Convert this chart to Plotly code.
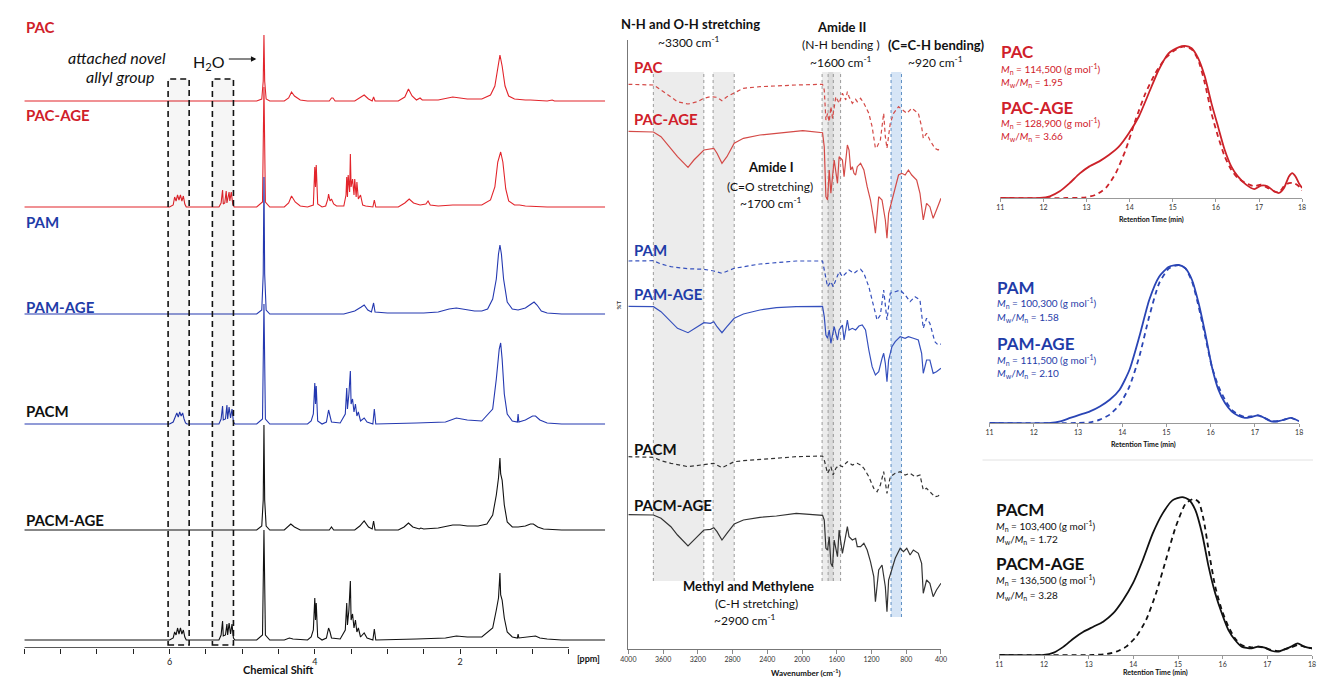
import plotly.graph_objects as go

W, H = 1319, 680
def fx(px): return px / W
def fy(py): return 1 - py / H

# ---------------- NMR data (ppm, intensity a.u.) ----------------
nmr_pac = [(8.0,0),(4.80,0),(4.73,2),(4.71,20),(4.70,66),(4.69,20),(4.67,2),(4.62,0),(4.42,0),(4.36,3),(4.32,9),(4.28,5),(4.2,1),(4.1,0),(3.80,0),(3.77,3),(3.75,3),(3.72,0),(3.45,0),(3.38,3),(3.32,6),(3.26,2),(3.21,0),(3.19,4),(3.17,0),(2.85,0),(2.76,4),(2.71,12),(2.66,5),(2.6,1),(2.55,3),(2.52,1),(2.3,1),(2.1,4),(1.9,2),(1.7,2),(1.58,6),(1.52,15),(1.48,35),(1.45,46),(1.42,35),(1.38,15),(1.33,5),(1.25,2),(1.1,1),(1.03,1),(0.8,0),(0.73,1),(0.7,0),(0.0,0)]
nmr_pac_age = [(8,0),(6.0,0),(5.95,2),(5.93,10),(5.91,6),(5.89,12),(5.87,7),(5.85,12),(5.83,6),(5.81,11),(5.79,3),(5.77,0),(5.32,0),(5.29,4),(5.27,17),(5.26,3),(5.24,4),(5.22,16),(5.21,4),(5.18,15),(5.17,6),(5.15,15),(5.13,3),(5.11,0),(4.80,0),(4.72,5),(4.70,120),(4.68,5),(4.62,0),(4.42,0),(4.36,4),(4.32,11),(4.27,5),(4.2,1),(4.1,0),(4.02,2),(4.00,40),(3.99,20),(3.98,42),(3.96,3),(3.9,0),(3.85,1),(3.82,8),(3.81,13),(3.79,6),(3.77,8),(3.74,3),(3.70,1),(3.60,1),(3.57,12),(3.56,30),(3.55,10),(3.54,32),(3.52,15),(3.51,53),(3.50,20),(3.48,28),(3.46,12),(3.45,28),(3.43,10),(3.42,25),(3.40,8),(3.37,12),(3.34,2),(3.3,1),(3.2,0),(3.18,7),(3.16,0),(2.85,0),(2.76,4),(2.70,8),(2.64,4),(2.55,2),(2.47,3),(2.44,6),(2.41,2),(2.3,1),(2.1,2),(1.9,2),(1.7,2),(1.58,7),(1.52,20),(1.48,45),(1.44,55),(1.41,45),(1.37,18),(1.33,6),(1.25,2),(1.18,2),(1.1,1),(0.8,0),(0,0)]
nmr_pam = [(8,0),(4.8,0),(4.73,4),(4.71,40),(4.70,137),(4.69,40),(4.67,4),(4.62,0),(3.6,0),(3.45,3),(3.36,7),(3.32,9),(3.27,4),(3.22,2),(3.19,11),(3.17,2),(3.0,1),(2.5,1),(2.3,2),(2.15,5),(2.05,6),(1.95,5),(1.8,3),(1.7,3),(1.62,5),(1.55,15),(1.50,35),(1.47,60),(1.45,69),(1.43,60),(1.40,35),(1.35,12),(1.28,5),(1.2,4),(1.1,6),(1.02,10),(0.98,12),(0.94,9),(0.88,3),(0.8,1),(0.6,0),(0,0)]
nmr_pam_age = [(8,0),(6.0,0),(5.95,2),(5.92,8),(5.90,11),(5.88,7),(5.86,12),(5.84,8),(5.82,11),(5.80,5),(5.78,1),(5.76,0),(5.32,0),(5.29,5),(5.27,18),(5.26,4),(5.23,5),(5.21,19),(5.20,5),(5.18,17),(5.16,6),(5.14,15),(5.12,2),(5.10,0),(4.80,0),(4.72,5),(4.70,120),(4.68,5),(4.62,0),(4.1,0),(4.05,3),(4.02,10),(4.00,41),(3.99,20),(3.98,38),(3.96,3),(3.9,0),(3.84,2),(3.81,14),(3.79,8),(3.77,2),(3.65,1),(3.58,10),(3.56,36),(3.55,15),(3.53,30),(3.51,53),(3.50,20),(3.48,25),(3.46,12),(3.44,20),(3.42,8),(3.40,12),(3.37,3),(3.32,6),(3.28,2),(3.2,0),(3.18,15),(3.16,0),(2.6,1),(2.2,2),(2.05,6),(1.9,4),(1.7,3),(1.55,15),(1.50,45),(1.46,75),(1.44,81),(1.42,65),(1.39,30),(1.35,10),(1.28,3),(1.21,2),(1.20,10),(1.19,2),(1.1,4),(1.0,8),(0.96,8),(0.9,4),(0.8,1),(0.6,0),(0,0)]
nmr_pacm = [(8,0),(4.8,0),(4.73,4),(4.71,30),(4.70,105),(4.69,30),(4.67,4),(4.62,0),(4.42,0),(4.37,3),(4.33,6),(4.28,3),(4.2,0),(3.80,0),(3.77,3),(3.74,0),(3.45,0),(3.38,4),(3.32,9),(3.26,3),(3.21,1),(3.19,9),(3.17,0),(2.85,0),(2.77,3),(2.71,7),(2.65,3),(2.56,1),(2.54,2),(2.5,1),(2.3,2),(2.1,5),(2.0,5),(1.9,4),(1.75,4),(1.63,6),(1.55,15),(1.50,35),(1.47,52),(1.45,72),(1.44,56),(1.42,50),(1.39,25),(1.35,8),(1.28,3),(1.2,3),(1.1,4),(1.03,6),(0.99,6),(0.93,3),(0.85,1),(0.6,0),(0,0)]
nmr_pacm_age = [(8,0),(6.0,0),(5.95,2),(5.93,8),(5.91,5),(5.89,12),(5.87,6),(5.85,12),(5.83,6),(5.81,10),(5.79,3),(5.77,0),(5.32,0),(5.29,5),(5.27,19),(5.26,4),(5.23,5),(5.21,16),(5.20,5),(5.18,17),(5.16,6),(5.14,16),(5.12,2),(5.10,0),(4.80,0),(4.72,5),(4.70,110),(4.68,5),(4.62,0),(4.42,0),(4.35,2),(4.3,1),(4.1,0),(4.05,3),(4.02,10),(4.00,42),(3.99,20),(3.98,37),(3.96,3),(3.9,0),(3.84,2),(3.81,12),(3.79,8),(3.77,2),(3.65,1),(3.58,10),(3.56,37),(3.55,15),(3.53,30),(3.51,59),(3.50,20),(3.48,26),(3.46,12),(3.44,20),(3.42,8),(3.40,12),(3.37,3),(3.32,7),(3.28,2),(3.2,0),(3.18,11),(3.16,0),(2.6,1),(2.2,2),(2.05,4),(1.9,3),(1.7,3),(1.55,12),(1.50,30),(1.47,42),(1.45,67),(1.44,45),(1.42,40),(1.39,22),(1.35,8),(1.28,3),(1.21,2),(1.20,6),(1.19,2),(1.1,3),(1.0,4),(0.96,4),(0.9,2),(0.8,1),(0.6,0),(0,0)]

nmr_names = ["PAC", "PAC-AGE", "PAM", "PAM-AGE", "PACM", "PACM-AGE"]

# ---------------- FTIR data (wavenumber, relative %T) ----------------
ftir_pac_wn = [4000,3711,3624,3510,3434,3313,3206,3130,3054,2979,2922,2865,2781,2675,2485,2295,2067,1764,1744,1725,1706,1687,1668,1649,1611,1573,1535,1497,1478,1459,1421,1383,1364,1326,1288,1231,1193,1155,1136,1098,1060,1041,1022,984,946,889,851,794,737,661,623,604,566,528,471,433,400]
ftir_pac_t = [75.7,75,70,63.3,58.3,56,58.3,61.7,63.3,62.7,59.3,63.3,66.7,71.7,73.3,74.3,75,75.7,70,40,46.7,38.3,53.3,41.7,63.3,56.7,66.7,60,68.3,63.3,56.7,60.7,58.3,61.7,56.7,46.7,33.3,11.7,13.3,20,46.7,23.3,11.7,36.7,46.7,53.3,50.7,46.7,51.7,46.7,33.3,21.7,26.7,20,11.7,10,12.7]
ftir_pacage_wn = [4000,3711,3624,3510,3434,3313,3245,3130,3054,3016,2979,2922,2865,2781,2675,2485,2295,2067,1991,1764,1744,1725,1706,1687,1668,1630,1592,1573,1535,1516,1478,1459,1440,1421,1402,1383,1364,1326,1288,1250,1212,1174,1155,1117,1079,1041,1022,1003,965,927,889,851,813,775,737,680,642,604,566,528,490,452,400]
ftir_pacage_t = [28.7,28,23.3,11.7,3.3,-7.3,0,10,10.7,11.7,6.7,-3.3,3.3,16.7,21.7,25,26.7,29,29.3,27.3,13.3,-36.7,-40,-10,-33.3,0,-23.3,3.3,0,-16.7,15,10,-10,-6.7,-13.3,-15,-6.7,-3.3,-10,-26.7,-40,-60,-73.3,-36.7,-40,-60,-78.3,-53.3,-40,-26.7,-15,-13.3,-15,-10,-15,-20,-33.3,-60,-43.3,-46.7,-58.3,-50,-38.3]
ftir_pam_wn = [4000,3711,3624,3510,3313,3130,3016,2922,2781,2675,2485,2295,2067,1764,1744,1706,1668,1642,1611,1573,1535,1497,1459,1402,1364,1326,1288,1231,1174,1136,1098,1060,1022,984,927,870,813,756,699,642,604,566,528,471,433,400]
ftir_pam_t = [79,79.3,76,73.3,71.3,70.7,69,66.7,71.7,73.3,76,77.3,79,79,70,53.3,58.3,53.3,60,68.3,63.3,66.7,70,66.7,69.3,70.7,66.7,53.3,33.3,20,25,50,20,46.7,48.3,50,45,38.3,43.3,40,11.7,21.7,16.7,-1.7,-5,-4]
ftir_pamage_wn = [4000,3711,3624,3510,3434,3313,3206,3130,3054,3016,2979,2922,2865,2781,2675,2485,2295,2067,1764,1744,1725,1706,1687,1668,1630,1592,1573,1535,1516,1478,1459,1421,1383,1345,1307,1269,1231,1193,1155,1117,1079,1060,1041,1022,1003,965,927,870,813,775,718,661,623,604,566,528,490,452,400]
ftir_pamage_t = [33.7,33.3,28.3,18.3,11.7,7.3,13.3,17.3,16.7,18.3,13.3,7.3,13.3,21.7,26,30,32.3,33.3,33.7,23.3,5,1.7,10,-3.3,13.3,0,10,15,0,20,10,11.7,10,14,15,10,-10,-26.7,-35,-31.7,-18.3,-13.3,-23.3,-41.7,-20,-6.7,-1.7,3.3,1.7,3.3,1.7,0,-13.3,-33.3,-20,-20,-33.3,-31.7,-28.3]
ftir_pacm_wn = [4000,3711,3624,3510,3313,3130,3016,2922,2781,2675,2485,2295,2067,1764,1744,1706,1668,1642,1611,1573,1535,1478,1421,1364,1326,1288,1231,1174,1136,1098,1060,1022,984,927,870,813,756,699,642,604,566,528,471,433,400]
ftir_pacm_t = [73.3,72.7,69.3,66.7,63.3,65,66.7,62.3,68.3,69.3,70.7,72,73.3,74,70,56.7,63.3,55,61.7,65,63.3,68.3,65,66.7,65,61.7,53.3,41.7,38.3,45,58.3,36.7,53.3,56.7,58.3,55,56.7,53.3,55,40,41.7,38.3,33.3,34,36.7]
ftir_pacmage_wn = [4000,3711,3624,3510,3434,3313,3206,3130,3054,3016,2979,2922,2865,2781,2675,2485,2295,2067,1764,1744,1725,1706,1687,1668,1649,1630,1592,1573,1535,1516,1478,1459,1421,1383,1364,1326,1288,1250,1212,1174,1155,1117,1079,1041,1022,1003,965,927,870,832,794,756,718,661,623,604,566,528,490,452,400]
ftir_pacmage_t = [15.3,15,11.7,3.3,-5,-16,-6.7,0,0.7,2.3,-1.7,-10,-3.3,6,10,12.7,14,16.7,14.7,10,-18.3,-20,-6.7,-33.3,-36.7,-10,-26.7,0,-23.3,-13.3,3.3,-6.7,-10,-8.3,-16.7,-16.7,-13.3,-20,-31.7,-46.7,-71.7,-40,-35,-56.7,-81.7,-50,-40,-28.3,-18.3,-21.7,-18.3,-25,-20,-23.3,-33.3,-63.3,-50,-53.3,-66.7,-60,-53.3]
ftir_ticks = [4000,3600,3200,2800,2400,2000,1600,1200,800,400]

# ---------------- GPC data (retention time min, normalized signal) ----------------
gpc_pac_t = [11,11.918,12.148,12.377,12.607,12.836,13.066,13.295,13.525,13.754,13.984,14.213,14.443,14.672,14.902,15.131,15.284,15.437,15.590,15.743,15.896,16.049,16.203,16.356,16.509,16.700,16.891,17.044,17.197,17.350,17.465,17.580,17.694,17.771,17.847,17.924,18.0]
gpc_pac_h = [0,0,0.011,0.044,0.098,0.160,0.208,0.241,0.284,0.339,0.427,0.536,0.689,0.842,0.952,0.991,1.0,0.985,0.919,0.799,0.624,0.470,0.317,0.208,0.142,0.088,0.059,0.081,0.077,0.044,0.033,0.066,0.142,0.164,0.142,0.098,0.066]
gpc_pacage_t = [11,12.530,12.989,13.219,13.448,13.678,13.907,14.137,14.366,14.596,14.826,15.055,15.246,15.437,15.590,15.743,15.896,16.049,16.203,16.356,16.509,16.700,16.891,17.044,17.197,17.350,17.465,17.580,17.694,17.809,17.924,18.0]
gpc_pacage_h = [0,0,0.004,0.022,0.066,0.164,0.317,0.514,0.689,0.821,0.919,0.974,0.996,0.978,0.908,0.755,0.558,0.405,0.274,0.186,0.131,0.098,0.077,0.088,0.066,0.044,0.037,0.077,0.098,0.098,0.077,0.050]
gpc_pam_t = [11,12.378,12.601,12.825,13.048,13.271,13.495,13.718,13.941,14.165,14.388,14.611,14.835,15.058,15.281,15.430,15.579,15.728,15.877,16.026,16.175,16.324,16.473,16.622,16.771,16.920,17.069,17.218,17.367,17.516,17.665,17.814,18.0]
gpc_pam_h = [0,0,0.011,0.032,0.053,0.074,0.105,0.147,0.211,0.337,0.547,0.779,0.926,0.989,1.0,0.979,0.905,0.758,0.568,0.358,0.211,0.126,0.074,0.046,0.032,0.038,0.048,0.032,0.011,0.011,0.021,0.032,0.011]
gpc_pamage_t = [11,12.973,13.271,13.495,13.718,13.941,14.165,14.388,14.611,14.835,15.058,15.281,15.430,15.579,15.728,15.877,16.026,16.175,16.324,16.473,16.622,16.771,16.920,17.069,17.218,17.367,17.516,17.665,17.814,18.0]
gpc_pamage_h = [0,0,0.004,0.021,0.053,0.116,0.232,0.421,0.674,0.884,0.979,1.0,0.979,0.895,0.737,0.547,0.358,0.232,0.147,0.084,0.053,0.038,0.042,0.048,0.032,0.011,0.011,0.021,0.032,0.011]
gpc_pacm_t = [11,11.996,12.218,12.439,12.661,12.882,13.103,13.325,13.546,13.768,13.989,14.210,14.432,14.653,14.875,15.096,15.244,15.391,15.539,15.686,15.834,15.982,16.129,16.277,16.424,16.646,16.793,16.941,17.089,17.236,17.384,17.531,17.679,17.827,18.0]
gpc_pacm_h = [0,0,0.015,0.053,0.105,0.147,0.179,0.211,0.263,0.347,0.453,0.600,0.768,0.895,0.979,1.0,0.983,0.916,0.768,0.558,0.389,0.263,0.158,0.095,0.053,0.042,0.053,0.046,0.027,0.021,0.036,0.053,0.074,0.053,0.042]
gpc_pacmage_t = [11,13.103,13.399,13.620,13.841,14.063,14.284,14.506,14.727,14.948,15.170,15.354,15.465,15.576,15.686,15.834,15.982,16.129,16.277,16.424,16.646,16.793,16.941,17.089,17.236,17.384,17.531,17.679,17.827,18.0]
gpc_pacmage_h = [0,0,0.006,0.021,0.053,0.116,0.221,0.389,0.600,0.811,0.958,0.989,0.968,0.853,0.663,0.432,0.284,0.179,0.105,0.063,0.048,0.053,0.046,0.032,0.025,0.036,0.048,0.063,0.053,0.042]
gpc_ticks = [11,12,13,14,15,16,17,18]

gpc_stats = [
    ("PAC", "114,500", "1.95", "PAC-AGE", "128,900", "3.66"),
    ("PAM", "100,300", "1.58", "PAM-AGE", "111,500", "2.10"),
    ("PACM", "103,400", "1.72", "PACM-AGE", "136,500", "3.28"),
]

# ---------------- styles ----------------
RED, BLUE, BLACK = "#e2242b", "#2438b0", "#111111"
LRED, LBLUE, LBLACK = "#d0202a", "#1f3ca8", "#111111"
FRED, FBLUE, FBLACK = "#d44a47", "#3550bd", "#333333"
GRED, GBLUE, GBLACK = "#cc2229", "#2a45b5", "#111111"
FONT = "Lato"

fig = go.Figure()

# ---------------- NMR panel ----------------
nmr_sets = [nmr_pac, nmr_pac_age, nmr_pam, nmr_pam_age, nmr_pacm, nmr_pacm_age]
nmr_cols = [RED, RED, BLUE, BLUE, BLACK, BLACK]
nmr_base = [547, 441, 334, 224, 118, 8]  # stacking offsets
for data, col, off in zip(nmr_sets, nmr_cols, nmr_base):
    xs = [p for p, _ in data]
    ys = [h + off for _, h in data]
    fig.add_trace(go.Scatter(x=xs, y=ys, mode="lines", line=dict(color=col, width=1.1),
                             xaxis="x", yaxis="y", showlegend=False, hoverinfo="skip"))

# ---------------- FTIR panel ----------------
ftir_sets = [
    (ftir_pac_wn, ftir_pac_t, 489, FRED, "dash"),
    (ftir_pacage_wn, ftir_pacage_t, 489, FRED, "solid"),
    (ftir_pam_wn, ftir_pam_t, 309, FBLUE, "dash"),
    (ftir_pamage_wn, ftir_pamage_t, 309, FBLUE, "solid"),
    (ftir_pacm_wn, ftir_pacm_t, 119, FBLACK, "dash"),
    (ftir_pacmage_wn, ftir_pacmage_t, 119, FBLACK, "solid"),
]
for wn, t, off, col, dash in ftir_sets:
    fig.add_trace(go.Scatter(x=wn, y=[v + off for v in t], mode="lines",
                             line=dict(color=col, width=1.2, dash="4px,3px" if dash == "dash" else "solid"),
                             xaxis="x2", yaxis="y2", showlegend=False, hoverinfo="skip"))

# ---------------- GPC panels ----------------
gpc_sets = [
    ("x3", "y3", gpc_pac_t, gpc_pac_h, gpc_pacage_t, gpc_pacage_h, GRED),
    ("x4", "y4", gpc_pam_t, gpc_pam_h, gpc_pamage_t, gpc_pamage_h, GBLUE),
    ("x5", "y5", gpc_pacm_t, gpc_pacm_h, gpc_pacmage_t, gpc_pacmage_h, GBLACK),
]
for xa, ya, t1, h1, t2, h2, col in gpc_sets:
    fig.add_trace(go.Scatter(x=t1, y=h1, mode="lines", line=dict(color=col, width=1.8, shape="spline", smoothing=0.6),
                             xaxis=xa, yaxis=ya, showlegend=False, hoverinfo="skip"))
    fig.add_trace(go.Scatter(x=t2, y=h2, mode="lines", line=dict(color=col, width=1.8, dash="5px,4px", shape="spline", smoothing=0.6),
                             xaxis=xa, yaxis=ya, showlegend=False, hoverinfo="skip"))

shapes = []
ann = []

# NMR axis line and dashed boxes
shapes.append(dict(type="line", xref="x", yref="y", x0=8, x1=0.5, y0=0, y1=0, line=dict(color="#222", width=1.5)))
for x0, x1 in [(6.02, 5.73), (5.41, 5.12)]:
    shapes.append(dict(type="rect", xref="x", yref="paper", x0=x0, x1=x1, y0=fy(645), y1=fy(79),
                       fillcolor="rgba(0,0,0,0.035)", line=dict(color="#111", width=1.6, dash="6px,4px"), layer="above"))

# FTIR shaded regions
for x0, x1 in [(3712, 3131), (3024, 2781), (1769, 1640), (1700, 1556)]:
    shapes.append(dict(type="rect", xref="x2", yref="y2", x0=x0, x1=x1, y0=649 - 581, y1=649 - 72,
                       fillcolor="rgba(120,120,120,0.14)", line=dict(width=0), layer="below"))
    for xx in (x0, x1):
        shapes.append(dict(type="line", xref="x2", yref="y2", x0=xx, x1=xx, y0=649 - 581, y1=649 - 72,
                           line=dict(color="#9a9a9a", width=1, dash="3px,3px"), layer="below"))
shapes.append(dict(type="rect", xref="x2", yref="y2", x0=975, x1=855, y0=649 - 617, y1=649 - 72,
                   fillcolor="rgba(120,170,225,0.3)", line=dict(width=0), layer="below"))
for xx in (975, 855):
    shapes.append(dict(type="line", xref="x2", yref="y2", x0=xx, x1=xx, y0=649 - 617, y1=649 - 72,
                       line=dict(color="#5d8fc4", width=1, dash="3px,3px"), layer="below"))

# GPC separator
shapes.append(dict(type="line", xref="paper", yref="paper", x0=fx(985), x1=1, y0=fy(460), y1=fy(460),
                   line=dict(color="#e2e2e2", width=1)))

def text(x, y, s, size=12, color="#111", bold=False, italic=False, xanchor="center"):
    if bold:
        s = "<b>" + s + "</b>"
    if italic:
        s = "<i>" + s + "</i>"
    ann.append(dict(x=fx(x), y=fy(y), xref="paper", yref="paper", text=s, showarrow=False,
                    xanchor=xanchor, yanchor="middle", font=dict(family=FONT, size=size, color=color)))

# NMR labels
nmr_label_y = [27, 115, 222, 307, 411, 520]
nmr_label_c = [LRED, LRED, LBLUE, LBLUE, LBLACK, LBLACK]
for name, yy, c in zip(nmr_names, nmr_label_y, nmr_label_c):
    text(16, yy, name, size=15, color=c, bold=True, xanchor="left")
text(110, 57, "attached novel", size=16, italic=True)
text(114, 76, "allyl group", size=16, italic=True)
text(203, 62, "H<sub>2</sub>O", size=16)
ann.append(dict(x=fx(251), y=fy(59), ax=-29, ay=0, xref="paper", yref="paper", axref="pixel", ayref="pixel",
                text="", showarrow=True, arrowhead=2, arrowsize=0.9, arrowwidth=1.2, arrowcolor="#111"))
text(587, 658, "[ppm]", size=9, bold=True)
text(273, 669, "Chemical Shift", size=11, bold=True)

# FTIR labels
ftir_labels = [("PAC", 67, LRED), ("PAC-AGE", 119, LRED), ("PAM", 250, LBLUE), ("PAM-AGE", 294, LBLUE),
               ("PACM", 449, LBLACK), ("PACM-AGE", 505, LBLACK)]
for name, yy, c in ftir_labels:
    text(631, yy, name, size=15, color=c, bold=True, xanchor="left")
text(690, 24, "N-H and O-H stretching", size=13, bold=True)
text(688, 42, "~3300 cm<sup>-1</sup>", size=12)
text(842, 27, "Amide II", size=13, bold=True)
text(842, 45, "(N-H bending )", size=12)
text(842, 62, "~1600 cm<sup>-1</sup>", size=12)
text(887, 45, "(C=C-H bending)", size=13, bold=True, xanchor="left")
text(937, 62, "~920 cm<sup>-1</sup>", size=12)
text(771, 167, "Amide I", size=13, bold=True)
text(770, 186, "(C=O stretching)", size=12)
text(771, 203, "~1700 cm<sup>-1</sup>", size=12)
text(748, 586, "Methyl and Methylene", size=13, bold=True)
text(757, 603, "(C-H stretching)", size=12)
text(745, 620, "~2900 cm<sup>-1</sup>", size=12)
text(807, 672, "Wavenumber (cm<sup>-1</sup>)", size=8, bold=True)
ann.append(dict(x=fx(617), y=fy(305), xref="paper", yref="paper", text="<b>%T</b>", showarrow=False, textangle=-90,
                font=dict(family=FONT, size=6, color="#333")))

# GPC labels
gpc_lab = [(1002, [52, 69, 82, 107, 123, 137], LRED),
           (998, [287, 303, 317, 343, 360, 373], LBLUE),
           (997, [509, 526, 539, 563, 580, 595], LBLACK)]
for (x0, ys, c), st in zip(gpc_lab, gpc_stats):
    n1, mn1, d1, n2, mn2, d2 = st
    text(x0, ys[0], n1, size=17, color=c, bold=True, xanchor="left")
    text(x0, ys[1], "<i>M</i><sub>n</sub> = " + mn1 + " (g mol<sup>-1</sup>)", size=10, color=c, xanchor="left")
    text(x0, ys[2], "<i>M</i><sub>w</sub>/<i>M</i><sub>n</sub> = " + d1, size=10, color=c, xanchor="left")
    text(x0, ys[3], n2, size=17, color=c, bold=True, xanchor="left")
    text(x0, ys[4], "<i>M</i><sub>n</sub> = " + mn2 + " (g mol<sup>-1</sup>)", size=10, color=c, xanchor="left")
    text(x0, ys[5], "<i>M</i><sub>w</sub>/<i>M</i><sub>n</sub> = " + d2, size=10, color=c, xanchor="left")
text(1156, 220, "Retention Time (min)", size=7, bold=True)
text(1148, 444, "Retention Time (min)", size=7, bold=True)
text(1160, 672, "Retention Time (min)", size=7, bold=True)

def gpc_axes(xd, yd, yr):
    xa = dict(domain=[fx(xd[0]), fx(xd[1])], range=[11, 18], tickvals=gpc_ticks, ticks="outside", ticklen=3,
              tickcolor="#999", showline=True, linecolor="#999", linewidth=1, showgrid=False, zeroline=False,
              tickfont=dict(family=FONT, size=7, color="#333"))
    ya = dict(domain=[fy(yd[1]), fy(yd[0])], range=yr, visible=False)
    return xa, ya

x3, y3 = gpc_axes((1003, 1308), (30, 198), [0, 1.105])
x4, y4 = gpc_axes((992, 1305), (250, 423), [0, 1.095])
x5, y5 = gpc_axes((1002, 1318), (480, 655), [0, 1.108])
x3["anchor"], y3["anchor"] = "y3", "x3"
x4["anchor"], y4["anchor"] = "y4", "x4"
x5["anchor"], y5["anchor"] = "y5", "x5"

fig.update_layout(
    width=W, height=H, margin=dict(l=0, r=0, t=0, b=0),
    paper_bgcolor="white", plot_bgcolor="white",
    xaxis=dict(domain=[fx(16.5), fx(603.5)], range=[8, 0.002], anchor="y", tickvals=[6, 4, 2],
               ticks="outside", ticklen=5, tickwidth=1.2, tickcolor="#222", showline=False, showgrid=False,
               minor=dict(dtick=0.5, tick0=0, ticks="outside", ticklen=5, tickwidth=1.2, tickcolor="#222", showgrid=False),
               zeroline=False, tickfont=dict(family=FONT, size=9, color="#222")),
    yaxis=dict(domain=[fy(648), fy(20)], range=[0, 628], visible=False, anchor="x"),
    xaxis2=dict(domain=[fx(627), fx(943)], range=[4000, 400], anchor="y2", tickvals=ftir_ticks, ticks="outside",
                ticklen=4, tickcolor="#888", showline=True, linecolor="#777", linewidth=1, showgrid=False,
                zeroline=False, tickfont=dict(family=FONT, size=7, color="#333")),
    yaxis2=dict(domain=[fy(649), fy(40)], range=[0, 609], anchor="x2", showline=True, linecolor="#777",
                linewidth=1, showticklabels=False, ticks="", showgrid=False, zeroline=False),
    xaxis3=x3, yaxis3=y3, xaxis4=x4, yaxis4=y4, xaxis5=x5, yaxis5=y5,
    shapes=shapes, annotations=ann, showlegend=False,
)

fig.write_html("out.html")
